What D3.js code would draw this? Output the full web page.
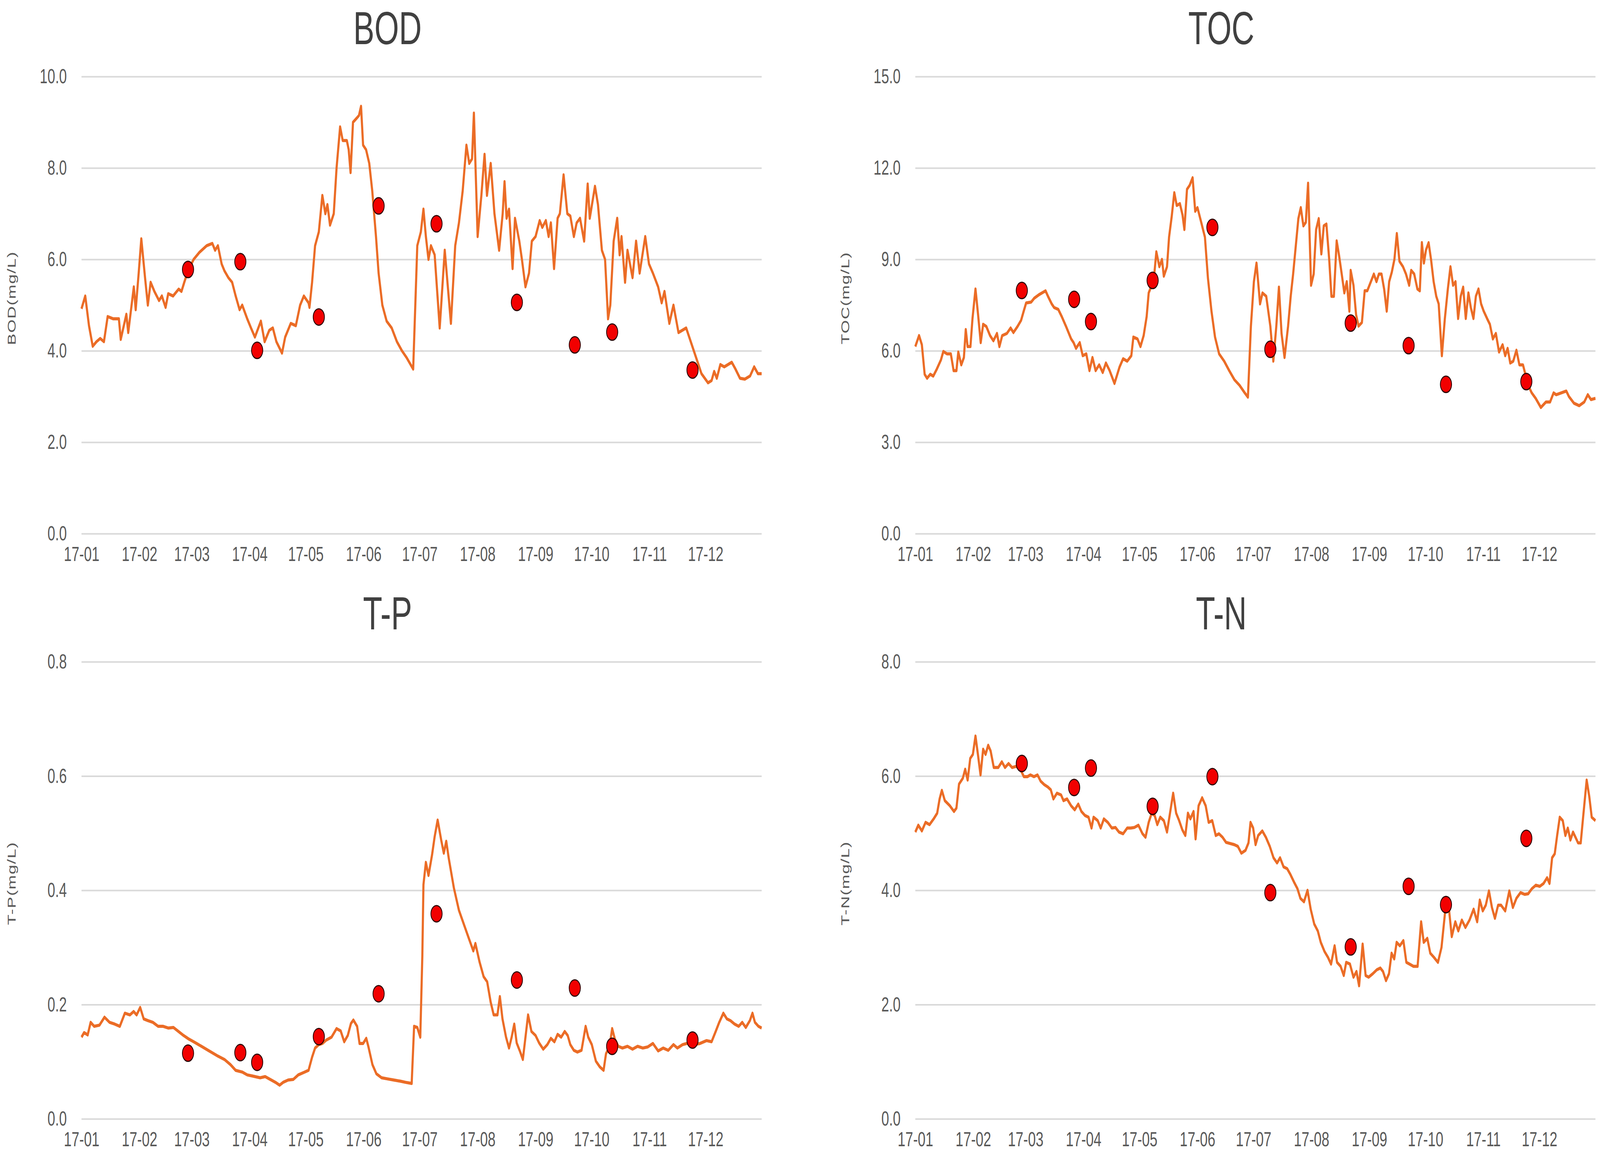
<!DOCTYPE html>
<html>
<head>
<meta charset="utf-8">
<script src="https://cdn.jsdelivr.net/npm/d3@7"></script>
<style>
  html, body { margin: 0; padding: 0; background: #ffffff; overflow: hidden; }
  #chart svg { display: block; width: 100vw; height: 100vh; }
</style>
</head>
<body>
<div id="chart"></div>
<script>
// colours
var lineOrange = "#EB6C26";
var dotRed = "#F20000";
var gridGrey = "#D9D9D9";
var tickGrey = "#595959";
var titleGrey = "#404040";
const fontFamily = "'Liberation Sans', Arial, sans-serif";

// sample (measured) dates, shared by all four panels
const sampleDates = ["2017-02-27", "2017-03-27", "2017-04-05", "2017-05-08", "2017-06-09",
    "2017-07-10", "2017-08-22", "2017-09-22", "2017-10-12", "2017-11-24"];

// measured values
const bodSamples = [5.78, 5.95, 4.01, 4.74, 7.17, 6.78, 5.06, 4.13, 4.41, 3.58];
const tocSamples = [7.98, 7.69, 6.96, 8.31, 10.05, 6.05, 6.91, 6.17, 4.90, 4.99];
const tpSamples = [0.115, 0.116, 0.099, 0.144, 0.219, 0.359, 0.243, 0.229, 0.127, 0.138];
const tnSamples = [6.22, 5.80, 6.14, 5.47, 5.99, 3.96, 3.01, 4.07, 3.75, 4.91];

// simulated series: [day of year (0 = 1 Jan 2017), value]
const bodLine = [[0,4.92],[2,5.2],[4,4.55],[6,4.1],[8,4.2],[10,4.27],[12,4.2],[14,4.75],[17,4.7],[20,4.7],[21,4.25],[24,4.8],[25,4.4],[28,5.4],[29,4.9],[30.6,5.7],[32,6.45],[34,5.6],[35.5,5.0],[37,5.5],[39,5.3],[41.5,5.1],[43,5.2],[45,4.95],[46.4,5.25],[49,5.2],[52,5.35],[53.5,5.3],[55,5.5],[57,5.75],[60,6.0],[63,6.15],[67,6.3],[70,6.35],[71.5,6.2],[73,6.3],[75,5.9],[76.5,5.75],[78.6,5.6],[80.6,5.5],[82.5,5.2],[84.6,4.9],[86,5.0],[88.7,4.7],[90.7,4.5],[92.8,4.3],[96,4.65],[98,4.2],[100.5,4.45],[102.4,4.5],[104.3,4.2],[107.3,3.95],[109,4.3],[112,4.6],[114.7,4.55],[117,5.0],[119,5.2],[121.5,5.05],[122,4.95],[123.4,5.5],[125,6.3],[127,6.6],[128.9,7.4],[130.5,7.0],[131.6,7.2],[133,6.75],[135,7.0],[136.5,8.0],[138.4,8.9],[139.8,8.6],[142,8.6],[143,8.4],[144,7.9],[145.3,9.0],[147.5,9.1],[148.5,9.15],[149.6,9.35],[150.7,8.5],[152.3,8.4],[154,8.1],[155.6,7.5],[157.6,6.5],[159,5.7],[161,5.0],[163.3,4.65],[166,4.5],[168.8,4.2],[171.5,4.0],[174,3.85],[177.5,3.6],[179.7,6.3],[181.6,6.6],[183,7.1],[184.3,6.5],[185.7,6.0],[187,6.3],[189,6.1],[191.7,4.5],[194.4,6.2],[197.7,4.6],[200,6.3],[202,6.8],[204,7.5],[206,8.5],[207.5,8.1],[209,8.2],[210,9.2],[212,6.5],[214,7.4],[215.7,8.3],[217,7.4],[219,8.1],[221,7.0],[223.5,6.2],[225.4,7.0],[226.4,7.7],[227.5,6.9],[228.8,7.1],[230.7,5.8],[232,6.9],[234.3,6.4],[235.7,6.0],[237.6,5.4],[239.5,5.7],[241,6.4],[243,6.5],[245.2,6.85],[246.6,6.7],[248.5,6.85],[250,6.5],[251.2,6.8],[252.9,5.8],[254.8,6.9],[256,7.0],[258,7.85],[260,7.0],[261.6,6.95],[263.5,6.5],[265,6.8],[266.8,6.9],[269,6.4],[270.9,7.65],[272,6.9],[274.8,7.6],[276.4,7.2],[278.5,6.2],[280.2,6.0],[281.8,4.7],[283,5.0],[284.8,6.4],[286.7,6.9],[288,6.1],[289,6.5],[290.9,5.5],[292.2,6.2],[294.9,5.6],[296.8,6.4],[298.7,5.7],[301.7,6.5],[303.7,5.9],[305.8,5.7],[308.6,5.4],[310.5,5.05],[312,5.3],[314.6,4.6],[316.8,5.0],[319.5,4.4],[323.6,4.5],[327.7,4.0],[331.8,3.5],[335.3,3.3],[337.2,3.35],[338.6,3.55],[340,3.4],[341.9,3.7],[344,3.65],[348,3.75],[350,3.6],[352.4,3.4],[355,3.38],[357.8,3.45],[360,3.65],[362,3.5],[364,3.5]];

const tocLine = [[0,6.14],[2,6.5],[3.5,6.2],[5,5.23],[6.3,5.1],[8,5.23],[9.6,5.17],[11.5,5.4],[13.7,5.7],[15,5.98],[17,5.9],[19,5.9],[20.5,5.35],[22,5.35],[23,5.96],[24.6,5.54],[26,5.78],[27,6.7],[28,6.14],[29.5,6.14],[30.6,7.06],[32.2,8.03],[33.6,7.18],[35,6.27],[36.3,6.87],[38,6.8],[40,6.5],[41.8,6.33],[43.7,6.57],[45,6.14],[46.5,6.5],[49,6.57],[51,6.75],[52.5,6.6],[54.7,6.8],[56.6,7.0],[58,7.3],[59.3,7.57],[62,7.6],[63.7,7.73],[66.4,7.85],[69.7,7.97],[71,7.79],[73,7.54],[74.3,7.42],[76.5,7.36],[78.4,7.12],[80.6,6.81],[83.4,6.39],[84.7,6.27],[86,6.08],[88,6.27],[89.6,5.84],[91.5,5.9],[93.2,5.35],[94.8,5.78],[96.5,5.35],[98.4,5.54],[100.3,5.29],[102,5.6],[104,5.35],[106.6,4.93],[109.3,5.47],[111.2,5.74],[113.4,5.66],[115.6,5.84],[116.7,6.45],[118.9,6.39],[120.5,6.14],[122.2,6.5],[123.8,7.12],[124.9,7.9],[126.5,8.15],[127.9,8.52],[129,9.25],[130.6,8.76],[132,9.0],[133,8.45],[134.7,8.76],[135.8,9.73],[137.2,10.4],[138.6,11.19],[139.9,10.77],[141.6,10.83],[143,10.46],[144,9.98],[145.4,11.3],[146.8,11.43],[148.4,11.68],[149.8,10.58],[151,10.7],[153,10.22],[155,9.73],[156.6,8.39],[158.5,7.3],[160.4,6.45],[162.6,5.9],[165.3,5.66],[168,5.35],[170.8,5.05],[173.5,4.87],[176.3,4.62],[178,4.48],[179.6,6.81],[181.2,8.27],[182.6,8.88],[184.5,7.54],[185.8,7.9],[187.8,7.79],[190,6.81],[191.6,5.66],[193.2,6.81],[194.6,8.09],[196,6.57],[197.6,5.78],[199.5,6.81],[200.9,7.79],[202.2,8.52],[203.6,9.43],[205,10.34],[206.3,10.7],[207.7,10.1],[209,10.22],[210.2,11.5],[211.8,8.15],[213.2,8.52],[214.5,9.98],[215.9,10.34],[217.3,9.18],[218.6,10.1],[220,10.16],[221.5,9.0],[222.7,7.79],[224,7.79],[225.5,9.61],[226.8,9.12],[228.2,8.52],[229.6,7.9],[230.9,8.27],[232.3,7.3],[233,8.64],[234.5,8.15],[235.9,7.18],[237.2,6.81],[239,6.93],[240.5,7.97],[241.9,7.97],[243.8,8.27],[245.4,8.52],[246.8,8.27],[248.1,8.52],[249.5,8.52],[250.9,8.03],[252.3,7.3],[253.6,8.27],[255,8.58],[256.4,9.0],[257.7,9.85],[259.1,8.94],[261,8.76],[262.6,8.52],[264.3,8.15],[265.4,8.64],[267,8.52],[268.7,8.03],[270,7.97],[271.1,9.55],[272.2,8.88],[273.3,9.31],[274.7,9.55],[276,9.0],[277.4,8.27],[278.8,7.79],[280.1,7.54],[281.8,5.84],[283.4,7.06],[285,8.03],[286.4,8.76],[287.8,8.15],[289.1,8.27],[290.5,7.06],[291.9,7.79],[293.2,8.09],[294.6,7.06],[296,7.9],[297.3,7.42],[298.7,7.06],[300,7.79],[301.4,8.03],[302.8,7.54],[304.2,7.3],[306,7.06],[307.5,6.87],[309.1,6.39],[310.7,6.57],[312.4,5.96],[314.3,6.2],[315.7,5.84],[317,6.08],[318.4,5.6],[320,5.66],[321.7,6.02],[323.3,5.54],[325.2,5.54],[328,4.87],[329.9,4.62],[332,4.44],[334.8,4.14],[337.5,4.32],[339.7,4.32],[341.6,4.62],[343,4.56],[345.7,4.62],[348.4,4.68],[349.8,4.5],[352.5,4.28],[355.3,4.2],[358,4.32],[359.9,4.56],[361.6,4.4],[364,4.44]];

const tpLine = [[0,0.143],[1.4,0.151],[3.3,0.147],[4.9,0.169],[6.8,0.162],[9.6,0.164],[12.3,0.178],[15,0.169],[17.7,0.166],[20.5,0.162],[23.2,0.185],[25.9,0.182],[27.9,0.188],[29.5,0.182],[31.4,0.195],[33.3,0.175],[35.5,0.172],[38.2,0.169],[41,0.162],[43.7,0.162],[46.4,0.159],[49.2,0.16],[51.9,0.153],[54.6,0.146],[57.3,0.14],[60,0.135],[64.2,0.127],[68.3,0.119],[72.4,0.111],[76.5,0.104],[79.7,0.095],[82.5,0.085],[86,0.082],[88.7,0.077],[91.5,0.075],[95.6,0.072],[98.3,0.074],[101,0.069],[103.8,0.064],[106,0.059],[107.9,0.064],[110.6,0.068],[113.3,0.069],[116,0.077],[118.8,0.081],[121.5,0.085],[123.4,0.108],[125,0.124],[127,0.13],[128.9,0.132],[131,0.138],[133.8,0.143],[136.5,0.158],[138.7,0.154],[140.6,0.135],[142.5,0.146],[144.2,0.167],[145.5,0.173],[147.5,0.162],[148.8,0.132],[150.7,0.132],[152.4,0.141],[153.5,0.127],[155.7,0.095],[157.8,0.079],[160.6,0.072],[163.8,0.07],[167.1,0.068],[170.7,0.066],[173.4,0.064],[176.7,0.062],[178,0.162],[179.7,0.16],[181.3,0.143],[182.4,0.285],[183,0.41],[184.3,0.449],[185.7,0.426],[187.6,0.462],[189,0.494],[190.6,0.523],[192.5,0.488],[193.9,0.465],[195.2,0.486],[196.6,0.455],[199.3,0.404],[202,0.365],[204.8,0.339],[207.5,0.314],[209.7,0.294],[210.8,0.307],[213,0.275],[215.2,0.249],[217.1,0.24],[219,0.204],[220.6,0.182],[222.6,0.182],[223.9,0.214],[225.3,0.175],[227.2,0.143],[228.8,0.124],[230.2,0.143],[231.6,0.166],[232.9,0.133],[234.8,0.117],[236.2,0.104],[237.6,0.143],[239,0.182],[240.8,0.153],[243,0.146],[244.9,0.133],[247.1,0.122],[249.3,0.13],[251.2,0.141],[253.1,0.135],[254.8,0.148],[256.7,0.143],[258.6,0.153],[260.2,0.146],[261.6,0.13],[263.5,0.12],[265.4,0.117],[267.6,0.12],[269.8,0.162],[271.2,0.143],[273.1,0.13],[275.3,0.101],[277.4,0.091],[279.4,0.085],[280.7,0.114],[282.6,0.127],[284,0.158],[285.4,0.14],[287.3,0.127],[289.5,0.124],[292.2,0.127],[294.9,0.122],[297.6,0.127],[300.4,0.124],[303.1,0.126],[305.8,0.132],[308.6,0.119],[311.3,0.124],[314,0.12],[316.8,0.13],[318.9,0.124],[321.7,0.13],[325,0.133],[327.7,0.13],[331,0.132],[334.5,0.137],[337.2,0.135],[339.4,0.153],[341.3,0.169],[343.5,0.185],[345.4,0.175],[347.3,0.172],[349.5,0.166],[351.7,0.162],[353.6,0.169],[355.5,0.16],[357.7,0.172],[359.1,0.185],[360.4,0.169],[362.3,0.162],[364,0.159]];

const tnLine = [[0,5.02],[1.6,5.14],[3.5,5.04],[5.5,5.19],[7.6,5.15],[9.8,5.25],[11.7,5.35],[13,5.6],[14.2,5.75],[15.8,5.57],[18.5,5.48],[20.7,5.38],[22,5.44],[23.4,5.86],[25.4,5.96],[26.7,6.12],[28,5.93],[29.4,6.31],[30.8,6.38],[32.2,6.7],[33.5,6.38],[34.9,6.02],[36.3,6.47],[37.6,6.38],[39,6.54],[40.3,6.44],[42,6.15],[44.4,6.15],[46.3,6.25],[48,6.15],[49.9,6.22],[51.8,6.15],[54,6.17],[56.2,6.12],[58.1,5.99],[60,5.99],[61.6,6.02],[63.5,5.99],[65.4,6.02],[67.1,5.91],[69,5.85],[70.9,5.81],[72.5,5.76],[73.9,5.6],[75.8,5.7],[78,5.67],[79.3,5.57],[81.2,5.6],[83.4,5.48],[85.3,5.41],[87.2,5.51],[88.9,5.38],[90.8,5.31],[92.7,5.28],[94.3,5.09],[95.4,5.28],[97.6,5.22],[99.2,5.09],[100.9,5.25],[103,5.19],[105.2,5.09],[107.1,5.1],[109,5.02],[111.2,4.99],[113.4,5.09],[115.3,5.09],[117.2,5.1],[119.4,5.14],[121.6,4.99],[123.2,4.93],[124.9,5.19],[126.5,5.35],[128.1,5.31],[129.5,5.15],[131.1,5.28],[133,5.22],[134.7,5.02],[136.3,5.35],[138,5.7],[139.6,5.35],[141.2,5.22],[142.9,5.06],[144.5,4.96],[145.9,5.35],[147.2,5.25],[148.9,5.38],[150,4.9],[151.6,5.48],[153.5,5.62],[155.4,5.48],[157,5.19],[158.9,5.22],[160.8,4.96],[162.5,4.99],[164.4,4.93],[166.3,4.84],[168.5,4.82],[170.7,4.8],[172.6,4.77],[174.5,4.65],[176.7,4.7],[178.3,4.83],[179.4,5.19],[180.8,5.09],[182.1,4.8],[183.5,4.96],[185.7,5.04],[187.6,4.93],[189.7,4.77],[191.7,4.57],[193.6,4.48],[195.2,4.57],[197.1,4.41],[199,4.38],[200.7,4.28],[202.6,4.15],[204.5,4.03],[206.1,3.86],[208,3.8],[209.9,4.0],[211.6,3.67],[213.5,3.41],[215.4,3.29],[217,3.09],[219,2.93],[220.8,2.83],[222.5,2.71],[224.4,3.03],[225.7,2.74],[227.6,2.67],[229.3,2.51],[230.6,2.74],[232.6,2.71],[234.5,2.48],[236.1,2.58],[237.5,2.33],[239.4,3.06],[241,2.51],[242.6,2.48],[244.8,2.54],[247,2.61],[248.9,2.64],[250.3,2.58],[251.9,2.42],[253.5,2.54],[254.9,2.9],[256.3,2.8],[257.6,3.09],[259.3,3.03],[261.2,3.12],[262.8,2.74],[264.5,2.71],[266.6,2.67],[268.8,2.67],[270.7,3.45],[272.1,3.09],[274,3.16],[275.6,2.9],[277.5,2.83],[279.7,2.74],[281.6,3.0],[283.5,3.61],[285.2,3.8],[287.1,3.19],[289,3.45],[290.6,3.29],[292.5,3.48],[294.4,3.35],[296.6,3.48],[298.8,3.67],[300.7,3.45],[302.1,3.83],[303.7,3.64],[305.3,3.74],[307,3.99],[308.6,3.7],[310.2,3.51],[311.9,3.74],[313.5,3.74],[315.7,3.64],[317.9,3.99],[319.8,3.7],[321.7,3.86],[323.9,3.96],[326.1,3.93],[328,3.94],[330,4.03],[332.1,4.09],[334.2,4.07],[336.2,4.12],[338.1,4.22],[339.4,4.12],[340.8,4.57],[342.2,4.64],[343.5,4.96],[344.9,5.28],[346.5,5.22],[347.9,4.96],[349.2,5.09],[350.6,4.88],[352,5.02],[353.3,4.93],[354.7,4.83],[356.1,4.83],[357.4,5.28],[359.3,5.93],[360.7,5.64],[362,5.28],[364,5.22]];

// y axis setup for each panel
const panelTitles = ["BOD", "TOC", "T-P", "T-N"];
const axisLabels = ["BOD(mg/L)", "TOC(mg/L)", "T-P(mg/L)", "T-N(mg/L)"];
const yMaxes = [10, 15, 0.8, 8];
const yTickValues = [[0, 2, 4, 6, 8, 10], [0, 3, 6, 9, 12, 15], [0, 0.2, 0.4, 0.6, 0.8], [0, 2, 4, 6, 8]];
const lines = [bodLine, tocLine, tpLine, tnLine];
const samples = [bodSamples, tocSamples, tpSamples, tnSamples];

// overall dimensions (user units; the svg is stretched to the window)
const totalWidth = 5987, totalHeight = 2959;
const panelStepX = 3120, panelStepY = 1498;
const margin = { top: 196, left: 305 },
    width = 2545,
    height = 1170;

const startDate = new Date(Date.UTC(2017, 0, 1));
const dayToDate = d => new Date(startDate.getTime() + d * 864e5);
const parseDate = d3.utcParse("%Y-%m-%d");

const svg = d3.select("#chart")
    .append("svg")
    .attr("viewBox", `0 0 ${totalWidth} ${totalHeight}`)
    .attr("preserveAspectRatio", "none")
    .style("font-family", fontFamily);

svg.append("rect")
    .attr("width", totalWidth)
    .attr("height", totalHeight)
    .attr("fill", "#ffffff");

const x = d3.scaleUtc()
    .domain([startDate, new Date(Date.UTC(2017, 11, 31))])
    .range([0, width]);

const monthTicks = d3.utcMonth.range(startDate, new Date(Date.UTC(2018, 0, 1)));

panelTitles.forEach(function (title, i) {
    const col = i % 2, row = Math.floor(i / 2);
    const panel = svg.append("g")
        .attr("transform", `translate(${col * panelStepX}, ${row * panelStepY})`);

    // title
    panel.append("text")
        .text(title)
        .attr("x", 1450)
        .attr("y", 113)
        .attr("text-anchor", "middle")
        .attr("font-size", 118)
        .style("fill", titleGrey);

    // y axis label
    panel.append("text")
        .text(axisLabels[i])
        .attr("transform", "translate(58, 763) rotate(-90)")
        .attr("text-anchor", "middle")
        .attr("font-size", 44)
        .attr("letter-spacing", 2)
        .style("fill", tickGrey);

    const plot = panel.append("g")
        .attr("transform", `translate(${margin.left}, ${margin.top})`);

    const y = d3.scaleLinear()
        .domain([0, yMaxes[i]])
        .range([height, 0]);

    // Y axis with gridlines
    const yAxis = plot.append("g")
        .call(d3.axisLeft(y)
            .tickValues(yTickValues[i])
            .tickFormat(d3.format(".1f"))
            .tickSize(-width)
            .tickPadding(55));
    yAxis.select(".domain").remove();
    yAxis.selectAll(".tick line")
        .attr("stroke", gridGrey)
        .attr("stroke-width", 4);
    yAxis.selectAll("text")
        .style("fill", tickGrey)
        .style("font-family", fontFamily)
        .style("font-size", "52px");

    // X axis
    const xAxis = plot.append("g")
        .attr("transform", `translate(0, ${height})`)
        .call(d3.axisBottom(x)
            .tickValues(monthTicks)
            .tickFormat(d3.utcFormat("%y-%m"))
            .tickSize(0)
            .tickPadding(33));
    xAxis.select(".domain").remove();
    xAxis.selectAll("text")
        .style("fill", tickGrey)
        .style("font-family", fontFamily)
        .style("font-size", "52px");

    // simulated line
    plot.append("path")
        .datum(lines[i])
        .attr("d", d3.line()
            .x(function (d) { return x(dayToDate(d[0])) })
            .y(function (d) { return y(d[1]) })
        )
        .attr("stroke", lineOrange)
        .style("stroke-width", 8)
        .style("stroke-linejoin", "round")
        .style("fill", "none");

    // measured points
    plot.selectAll(".dot")
        .data(samples[i])
        .enter()
        .append("circle")
        .attr("cx", function (d, k) { return x(parseDate(sampleDates[k])) })
        .attr("cy", function (d) { return y(d) })
        .attr("r", 21)
        .attr("fill", dotRed)
        .attr("stroke", "#2B0000")
        .attr("stroke-width", 3);
});
</script>
</body>
</html>
